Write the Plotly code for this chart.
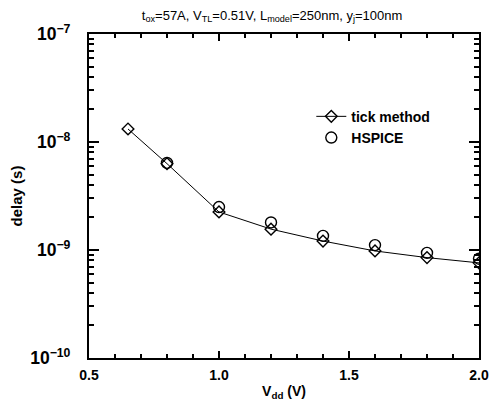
import plotly.graph_objects as go

vdd_tick = [0.65, 0.8, 1.0, 1.2, 1.4, 1.6, 1.8, 2.0]
delay_tick = [1.32e-8, 6.3e-9, 2.25e-9, 1.56e-9, 1.21e-9, 0.98e-9, 0.85e-9, 0.76e-9]
vdd_hspice = [0.8, 1.0, 1.2, 1.4, 1.6, 1.8, 2.0]
delay_hspice = [6.4e-9, 2.5e-9, 1.8e-9, 1.35e-9, 1.11e-9, 0.94e-9, 0.83e-9]
x_range = [0.5, 2.0]
x_major_step = 0.5
x_minor_step = 0.1
y_log_range = [-10, -7]

font_b = "Liberation Sans"

fig = go.Figure()
fig.add_trace(go.Scatter(
    x=vdd_tick, y=delay_tick, mode="lines+markers", name="tick method",
    line=dict(color="black", width=1),
    marker=dict(symbol="diamond-open", size=9, color="black", line=dict(width=1.4)),
))
fig.add_trace(go.Scatter(
    x=vdd_hspice, y=delay_hspice, mode="markers", name="HSPICE",
    marker=dict(symbol="circle-open", size=11, color="black", line=dict(width=1.4)),
))

fig.update_layout(
    width=490, height=397,
    margin=dict(l=81, r=19, t=26, b=47, autoexpand=False),
    paper_bgcolor="white", plot_bgcolor="white",
    font=dict(family=font_b, color="black"),
    title=dict(text="t<sub>ox</sub>=57A, V<sub>TL</sub>=0.51V, L<sub>model</sub>=250nm, y<sub>j</sub>=100nm",
               x=0.539, xanchor="center", y=0.982, yanchor="middle",
               font=dict(size=13, family=font_b)),
    legend=dict(x=0.57, y=0.794, xanchor="left", yanchor="top",
                bgcolor="rgba(0,0,0,0)", borderwidth=0,
                font=dict(size=14, family=font_b, weight="bold"),
                tracegroupgap=0),
    showlegend=True,
)
fig.update_xaxes(
    range=x_range, tickmode="linear", tick0=x_range[0], dtick=x_major_step, tickformat=".1f",
    ticks="inside", ticklen=7, tickwidth=1.5, tickcolor="black", mirror="ticks",
    showline=True, linecolor="black", linewidth=1.5, showgrid=False, zeroline=False,
    tickfont=dict(size=14, family=font_b, weight="bold"), ticklabelstandoff=3,
    automargin=False,
    minor=dict(ticks="inside", ticklen=4, tickwidth=1.5, tickcolor="black",
               dtick=x_minor_step, showgrid=False),
    title=dict(text="V<sub>dd</sub> (V)", font=dict(size=14, family=font_b, weight="bold"), standoff=5),
)
fig.update_yaxes(
    type="log", range=y_log_range, dtick=1, exponentformat="power", showexponent="all",
    ticks="inside", ticklen=10, tickwidth=1.5, tickcolor="black", mirror="ticks",
    showline=True, linecolor="black", linewidth=1.5, showgrid=False, zeroline=False,
    tickfont=dict(size=14, family=font_b, weight="bold"), ticklabelstandoff=14,
    automargin=False,
    minor=dict(ticks="inside", ticklen=5, tickwidth=1.5, tickcolor="black",
               dtick="D1", showgrid=False),
    title=dict(text="delay (s)", font=dict(size=15, family=font_b, weight="bold"), standoff=10),
)

fig.write_html("out.html")
